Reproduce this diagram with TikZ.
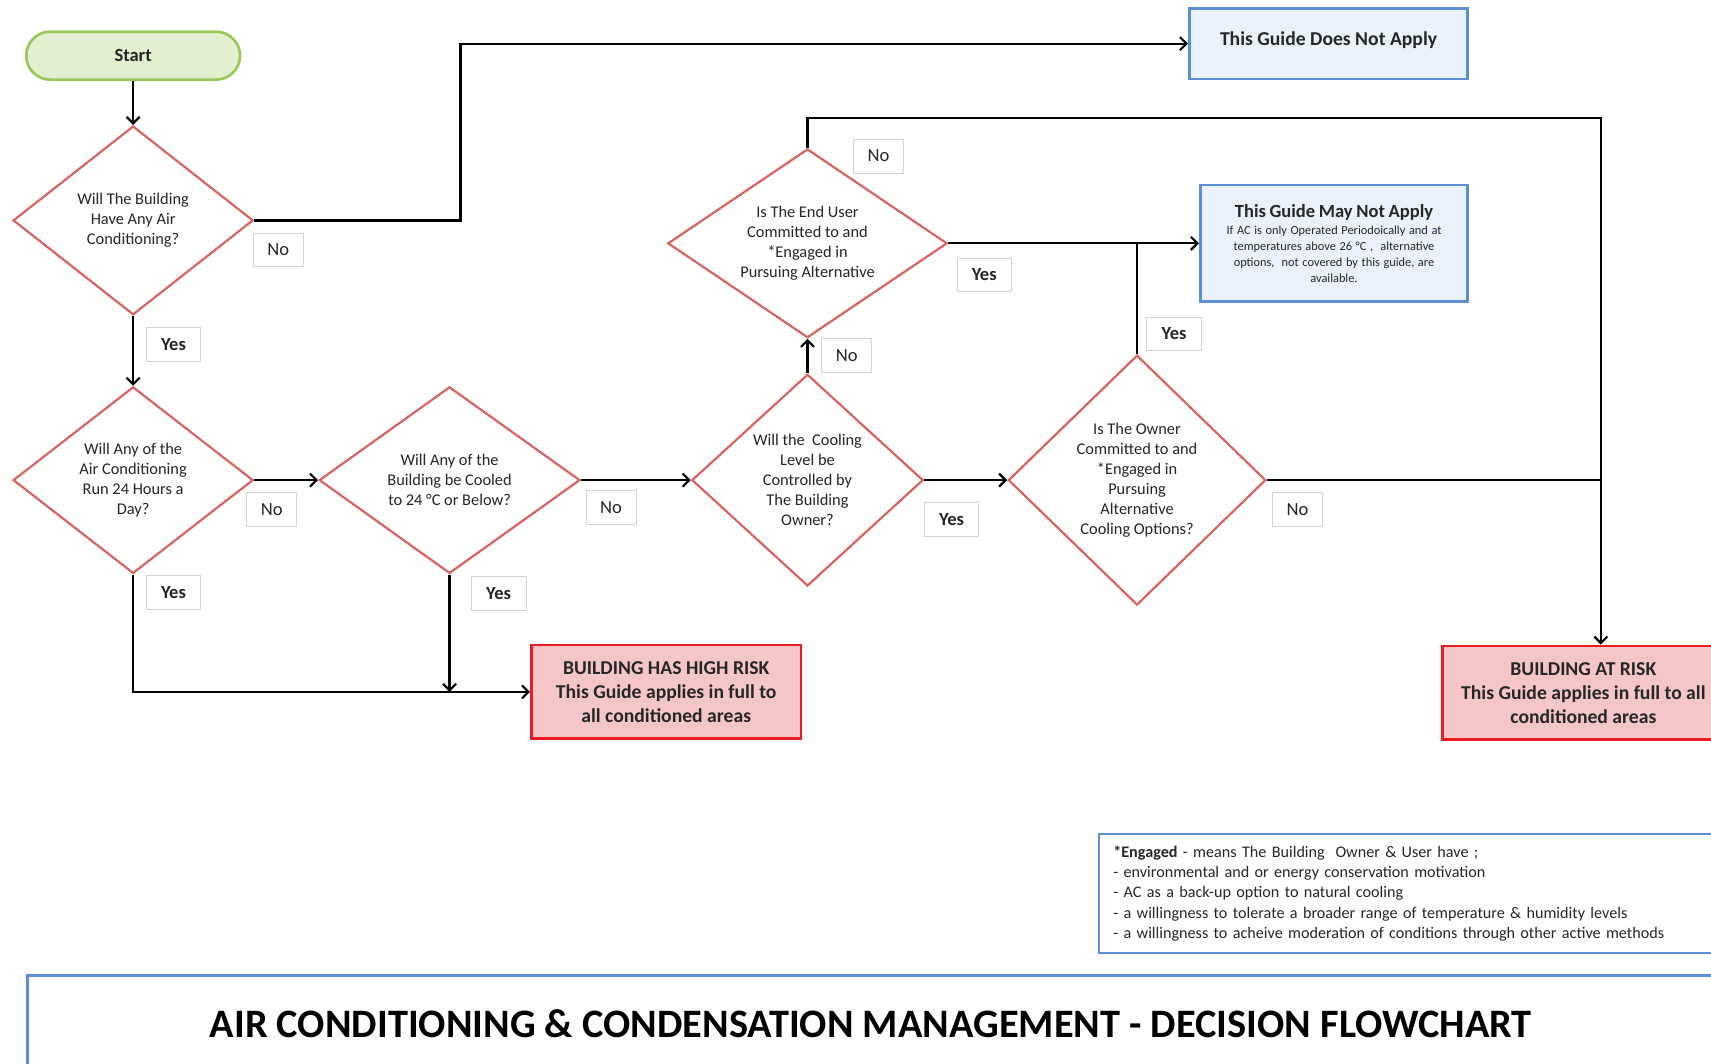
\documentclass[tikz,border=0pt]{standalone}
\usepackage{fontspec}
\setmainfont{Carlito}
\usetikzlibrary{shapes.geometric,arrows.meta,calc}
\definecolor{dred}{RGB}{218,99,95}
\definecolor{sgreen}{RGB}{155,200,90}
\definecolor{sfill}{RGB}{226,240,208}
\definecolor{bborder}{RGB}{91,142,214}
\definecolor{bfill}{RGB}{234,243,253}
\definecolor{rborder}{RGB}{236,28,36}
\definecolor{rfill}{RGB}{245,198,200}
\definecolor{labgray}{RGB}{212,212,212}
\definecolor{txt}{RGB}{38,38,38}
\begin{document}
\begin{tikzpicture}[x=1pt,y=-1pt,line width=2pt,
  arr/.style={-{Straight Barb[length=6pt,width=12pt]}},
  dec/.style={diamond, draw=dred, line width=2pt, inner sep=0pt, align=center, text=txt, font=\fontsize{15}{18.4}\selectfont},
  lab/.style={draw=labgray, line width=0.8pt, fill=white, inner sep=0pt, minimum height=31pt, text=txt},
  ylab/.style={lab, minimum width=50pt, font=\bfseries\fontsize{17}{20}\selectfont},
  nlab/.style={lab, minimum width=46pt, font=\fontsize{17}{20}\selectfont},
  bluebox/.style={draw=bborder, fill=bfill, line width=2.5pt, inner sep=0pt, text=txt},
  riskbox/.style={draw=rborder, fill=rfill, line width=2.5pt, inner sep=0pt, align=center, text=txt, font=\bfseries\fontsize{18}{22}\selectfont},
]
\clip (0,0) rectangle (1568,975);
\fill[white] (0,0) rectangle (1568,975);

% nodes
\node[rectangle, rounded corners=22pt, draw=sgreen, fill=sfill, line width=2.5pt, minimum width=196pt, minimum height=44pt, text=txt, font=\bfseries\fontsize{17}{20}\selectfont] (start) at (122,51) {Start};

\node[dec, aspect=1.27, minimum width=220pt, minimum height=173pt] (d1) at (122,202) {Will The Building\\Have Any Air\\Conditioning?};
\node[dec, aspect=1.29, minimum width=220pt, minimum height=171pt] (d2) at (122,440) {Will Any of the\\Air Conditioning\\Run 24 Hours a\\Day?};
\node[dec, aspect=1.4, minimum width=239pt, minimum height=171pt] (d3) at (412,440) {Will Any of the\\Building be Cooled\\to 24 °C or Below?};
\node[dec, aspect=1.09, minimum width=212pt, minimum height=194pt] (d4) at (740,440) {Will the\ \ Cooling\\Level be\\Controlled by\\The Building\\Owner?};
\node[dec, aspect=1.48, minimum width=256pt, minimum height=173pt] (d5) at (740,223) {Is The End User\\Committed to and\\*Engaged in\\Pursuing Alternative};
\node[dec, aspect=1.03, minimum width=236pt, minimum height=229pt] (d6) at (1042,440) {Is The Owner\\Committed to and\\*Engaged in\\Pursuing\\Alternative\\Cooling Options?};

\node[bluebox, minimum width=255pt, minimum height=65pt, font=\bfseries\fontsize{18}{21}\selectfont] (dna) at (1217.5,40) {\raisebox{9pt}{This Guide Does Not Apply}};
\node[bluebox, minimum width=245pt, minimum height=107pt, text width=243pt, align=center] (may) at (1222.5,223) {{\bfseries\fontsize{17}{19}\selectfont This Guide May Not Apply\par}\vspace{1pt}{\fontsize{11.3}{14.6}\selectfont If AC is only Operated Periodoically and at\\ temperatures above 26 °C ,\ \ alternative\\ options,\ \ not covered by this guide, are\\ available.\par}};

\node[riskbox, minimum width=247pt, minimum height=86pt] (hr) at (610.5,634) {BUILDING HAS HIGH RISK\\This Guide applies in full to\\all conditioned areas};
\node[riskbox, minimum width=258pt, minimum height=86pt] (bar) at (1451,635) {BUILDING AT RISK\\This Guide applies in full to all\\conditioned areas};

\node[draw=bborder, line width=2.5pt, fill=white, anchor=north west, minimum width=620pt, minimum height=109pt, text width=594pt, inner xsep=13pt, inner ysep=0pt, align=left, text=txt, font=\fontsize{14.8}{18.7}\selectfont] (eng) at (1006,763) {\textbf{*Engaged} - means The Building\ \ Owner \& User have ;\\- environmental and or energy conservation motivation\\- AC as a back-up option to natural cooling\\- a willingness to tolerate a broader range of temperature \& humidity levels\\- a willingness to acheive moderation of conditions through other active methods};

\node[draw=bborder, line width=2.5pt, fill=white, anchor=north west, minimum width=1620pt, minimum height=150pt] (tbox) at (24,893) {};
\node[text=black, font=\bfseries\fontsize{37}{44}\selectfont] (title) at (798,938) {AIR CONDITIONING \& CONDENSATION MANAGEMENT - DECISION FLOWCHART};

\coordinate (vx) at ([xshift=16pt]bar.north);

% connectors
\draw[arr] (start) -- (d1);
\draw[arr] (d1.east) -- ++(189,0) |- (dna.west);
\draw[arr] (d1) -- (d2);
\draw[arr] (d2) -- (d3);
\draw[arr] (d3) -- (d4);
\draw[arr] (d4) -- (d5);
\draw[arr] (d5.north) -- ++(0,-27) -| (vx);
\draw[arr] (d5.east) -- (may.west);
\draw[arr] (d4) -- (d6);
\draw (d6.north) -- (d6.north |- may.west);
\draw (d6.east) -- (d6.east -| vx);
\draw[arr] (d2.south) |- (hr.west);
\draw[arr] (d3.south) -- (d3.south |- hr.west);

% labels
\node[nlab] (n1) at (255,229) {No};
\node[ylab] (y1) at (159,316) {Yes};
\node[nlab] (n2) at (249,467) {No};
\node[ylab] (y2) at (159,543) {Yes};
\node[nlab] (n3) at (560,465) {No};
\node[ylab] (y3) at (457,544) {Yes};
\node[nlab] (n4) at (776,326) {No};
\node[nlab] (n5) at (805,143) {No};
\node[ylab] (y5) at (902,252) {Yes};
\node[ylab] (y4) at (872,476) {Yes};
\node[ylab] (y6) at (1076,306) {Yes};
\node[nlab] (n6) at (1189,467) {No};
\end{tikzpicture}
\end{document}
